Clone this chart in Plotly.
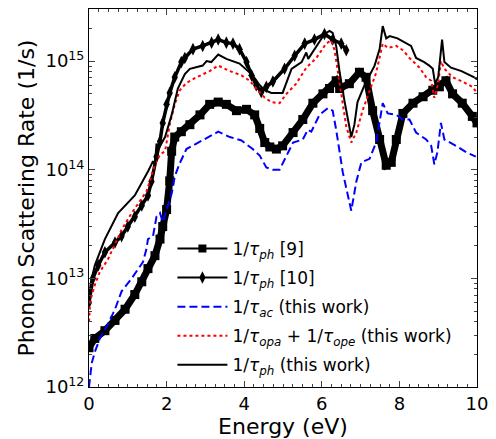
import plotly.graph_objects as go

# ---- data ----
sq_x = [0.0, 0.15, 0.41, 0.67, 0.93, 1.18, 1.36, 1.52, 1.70, 1.83, 1.90, 2.00, 2.08, 2.13, 2.21, 2.38,
        2.60, 2.86, 3.11, 3.33, 3.54, 3.80, 4.06, 4.27, 4.40, 4.53, 4.66, 4.83, 4.99, 5.26, 5.51, 5.77,
        6.03, 6.20, 6.37, 6.46, 6.71, 6.97, 7.14, 7.31, 7.49, 7.66, 7.79, 7.92, 8.09, 8.35, 8.61, 8.86,
        9.03, 9.20, 9.37, 9.62, 9.88, 10.0]
sq_y = [2.3e12, 2.8e12, 3.3e12, 4.1e12, 5.2e12, 7.1e12, 9.3e12, 1.23e13, 1.62e13, 2.3e13, 3.0e13, 4.3e13,
        7.9e13, 1.48e14, 2.0e14, 2.24e14, 2.6e14, 3.2e14, 4.0e14, 4.2e14, 4.0e14, 3.5e14, 3.6e14, 3.2e14,
        2.4e14, 1.78e14, 1.62e14, 1.55e14, 1.66e14, 2.2e14, 2.9e14, 4.1e14, 5.0e14, 5.6e14, 6.6e14, 5.6e14,
        6.2e14, 7.9e14, 7.1e14, 3.5e14, 1.9e14, 1.1e14, 1.17e14, 1.9e14, 3.3e14, 4.1e14, 4.7e14, 5.4e14,
        5.8e14, 6.6e14, 5.0e14, 4.1e14, 3.1e14, 2.7e14]

dm_x = [0.0, 0.10, 0.24, 0.41, 0.67, 0.84, 1.00, 1.18, 1.36, 1.52, 1.61, 1.74, 1.83, 1.90, 2.00, 2.08,
        2.21, 2.38, 2.47, 2.68, 2.93, 3.16, 3.33, 3.54, 3.71, 3.88, 4.06, 4.19, 4.31, 4.44, 4.57, 4.74,
        5.04, 5.30, 5.56, 5.81, 6.07, 6.28, 6.50, 6.63]
dm_y = [6.0e12, 1.0e13, 1.32e13, 1.74e13, 2.14e13, 2.45e13, 3.0e13, 3.7e13, 4.7e13, 5.8e13, 7.8e13,
        1.32e14, 1.82e14, 2.7e14, 4.0e14, 5.1e14, 7.1e14, 9.8e14, 1.07e15, 1.29e15, 1.38e15, 1.48e15,
        1.58e15, 1.48e15, 1.45e15, 1.29e15, 9.8e14, 7.4e14, 6.0e14, 5.2e14, 5.8e14, 6.5e14, 8.5e14,
        1.12e15, 1.45e15, 1.58e15, 1.78e15, 1.58e15, 1.45e15, 1.26e15]

ac_x = [0.0, 0.03, 0.07, 0.15, 0.28, 0.49, 0.67, 0.84, 1.10, 1.39, 1.48, 1.52, 1.65, 1.74, 1.83, 1.90,
        2.03, 2.13, 2.21, 2.34, 2.51, 2.77, 2.98, 3.08, 3.33, 3.63, 3.93, 4.22, 4.40, 4.57, 4.74, 4.91,
        5.09, 5.26, 5.51, 5.64, 5.73, 5.94, 6.16, 6.28, 6.37, 6.54, 6.76, 6.89, 7.02, 7.23, 7.40, 7.57,
        7.70, 7.92, 8.09, 8.26, 8.43, 8.69, 8.82, 8.90, 8.98, 9.07, 9.16, 9.46, 9.72, 9.97]
ac_y = [1.0e12, 1.23e12, 1.66e12, 2.1e12, 2.8e12, 3.8e12, 5.2e12, 7.6e12, 1.0e13, 1.41e13, 1.86e13,
        2.3e13, 2.45e13, 3.7e13, 4.0e13, 3.3e13, 4.7e13, 6.0e13, 8.7e13, 1.15e14, 1.55e14, 1.74e14,
        1.9e14, 2.0e14, 2.24e14, 2.0e14, 1.86e14, 1.55e14, 1.35e14, 1.05e14, 1.0e14, 1.0e14, 1.35e14,
        1.78e14, 1.9e14, 2.34e14, 2.24e14, 3.2e14, 3.7e14, 3.5e14, 2.34e14, 9.5e13, 4.2e13, 7.8e13,
        1.17e14, 1.26e14, 1.78e14, 4.1e14, 3.3e14, 3.2e14, 2.9e14, 2.9e14, 2.2e14, 1.9e14, 1.66e14,
        1.12e14, 1.45e14, 2.7e14, 1.9e14, 1.66e14, 1.45e14, 1.32e14]

op_x = [0.0, 0.03, 0.15, 0.28, 0.49, 0.67, 0.84, 1.10, 1.31, 1.48, 1.57, 1.70, 1.83, 1.96, 2.08, 2.21,
        2.34, 2.51, 2.77, 3.11, 3.33, 3.63, 3.93, 4.14, 4.31, 4.53, 4.70, 4.91, 5.09, 5.34, 5.60, 5.86,
        6.11, 6.24, 6.33, 6.46, 6.63, 6.76, 6.89, 7.05, 7.23, 7.40, 7.57, 7.70, 7.92, 8.09, 8.26, 8.52,
        8.69, 8.82, 8.90, 9.00, 9.07, 9.16, 9.37, 9.62, 9.88, 10.0]
op_y = [4.0e12, 6.2e12, 8.7e12, 1.15e13, 1.5e13, 2.1e13, 2.8e13, 4.0e13, 5.2e13, 6.3e13, 7.9e13,
        1.12e14, 1.38e14, 1.48e14, 2.6e14, 4.0e14, 5.4e14, 6.3e14, 7.1e14, 8.1e14, 9.1e14, 8.1e14,
        7.4e14, 6.6e14, 5.6e14, 4.6e14, 4.2e14, 4.1e14, 5.0e14, 6.2e14, 8.7e14, 1.07e15, 1.45e15,
        1.55e15, 1.26e15, 6.3e14, 2.5e14, 1.78e14, 2.2e14, 3.5e14, 5.4e14, 7.8e14, 1.45e15, 1.32e15,
        1.38e15, 1.26e15, 1.07e15, 8.7e14, 7.1e14, 6.6e14, 4.6e14, 6.2e14, 1.0e15, 8.5e14, 7.1e14,
        6.5e14, 5.8e14, 5.1e14]

ph_x = [0.0, 0.05, 0.15, 0.41, 0.75, 1.18, 1.53, 1.65, 1.70, 1.74, 1.80, 1.96, 2.13, 2.29, 2.47, 2.60,
        2.93, 3.03, 3.15, 3.33, 3.54, 3.88, 4.22, 4.40, 4.53, 4.70, 4.99, 5.09, 5.22, 5.48, 5.60, 5.65,
        5.81, 6.07, 6.20, 6.28, 6.37, 6.46, 6.59, 6.76, 6.84, 6.92, 7.10, 7.36, 7.49, 7.57, 7.66, 7.75,
        7.95, 8.13, 8.30, 8.43, 8.64, 8.77, 8.86, 8.92, 9.00, 9.10, 9.16, 9.33, 9.60, 9.93, 10.0]
ph_y = [6.5e12, 9.3e12, 1.32e13, 2.3e13, 4.0e13, 5.8e13, 9.8e13, 1.2e14, 1.12e14, 1.74e14, 1.58e14,
        2.0e14, 3.2e14, 5.6e14, 7.6e14, 8.5e14, 9.1e14, 1.0e15, 9.8e14, 1.15e15, 1.05e15, 9.5e14, 7.4e14,
        6.0e14, 5.4e14, 5.1e14, 5.1e14, 6.5e14, 8.5e14, 9.8e14, 1.2e15, 1.05e15, 1.29e15, 1.78e15,
        1.9e15, 1.82e15, 1.38e15, 7.9e14, 4.2e14, 2.0e14, 2.6e14, 4.2e14, 6.0e14, 9.1e14, 1.29e15,
        2.1e15, 1.62e15, 1.7e15, 1.62e15, 1.48e15, 1.38e15, 1.07e15, 9.8e14, 9.1e14, 8.5e14, 6.2e14,
        7.1e14, 1.58e15, 9.8e14, 8.7e14, 8.1e14, 7.1e14, 6.8e14]

names = ["1/<i>τ</i><sub><i>ph</i></sub> [9]",
         "1/<i>τ</i><sub><i>ph</i></sub> [10]",
         "1/<i>τ</i><sub><i>ac</i></sub> (this work)",
         "1/<i>τ</i><sub><i>opa</i></sub> + 1/<i>τ</i><sub><i>ope</i></sub> (this work)",
         "1/<i>τ</i><sub><i>ph</i></sub> (this work)"]

fig = go.Figure()
# squares [9]: thick band + markers, plus legend proxy
fig.add_trace(go.Scatter(x=sq_x, y=sq_y, mode="lines+markers", showlegend=False,
                         line=dict(color="black", width=7),
                         marker=dict(symbol="square", size=9, color="black")))
fig.add_trace(go.Scatter(x=[None], y=[None], mode="lines+markers", name=names[0], legendgroup="a",
                         line=dict(color="black", width=2),
                         marker=dict(symbol="square", size=8, color="black")))
# diamonds [10]
fig.add_trace(go.Scatter(x=dm_x, y=dm_y, mode="lines+markers", showlegend=False,
                         line=dict(color="black", width=3.5),
                         marker=dict(symbol="diamond-tall", size=9, color="black")))
fig.add_trace(go.Scatter(x=[None], y=[None], mode="lines+markers", name=names[1], legendgroup="b",
                         line=dict(color="black", width=2),
                         marker=dict(symbol="diamond-tall", size=9, color="black")))
fig.add_trace(go.Scatter(x=ac_x, y=ac_y, mode="lines", name=names[2], legendgroup="c",
                         line=dict(color="#0000ff", width=2, dash="8px,4px")))
fig.add_trace(go.Scatter(x=op_x, y=op_y, mode="lines", name=names[3], legendgroup="d",
                         line=dict(color="#ff0000", width=2, dash="dot")))
fig.add_trace(go.Scatter(x=ph_x, y=ph_y, mode="lines", name=names[4], legendgroup="e",
                         line=dict(color="black", width=2)))

decades = [1e12, 1e13, 1e14, 1e15]
minor_y = [m * d for d in [1e12, 1e13, 1e14, 1e15] for m in range(2, 10) if m * d < 3.1e15]

fig.update_layout(
    width=496, height=439,
    margin=dict(l=89, r=18, t=8, b=47),
    plot_bgcolor="white", paper_bgcolor="white",
    font=dict(family="DejaVu Sans", size=18, color="black"),
    legend=dict(x=0.215, y=0.413, xanchor="left", yanchor="top", itemwidth=50,
                bgcolor="rgba(0,0,0,0)", font=dict(size=17), tracegroupgap=4),
)
fig.update_xaxes(range=[0, 10], tickvals=[0, 2, 4, 6, 8, 10], ticks="inside", ticklen=6,
                 showline=True, linecolor="black", linewidth=1, mirror="ticks", showgrid=False,
                 zeroline=False, title=dict(text="Energy (eV)", standoff=2),
                 minor=dict(dtick=0.25, ticks="inside", ticklen=3, showgrid=False))
fig.update_yaxes(type="log", range=[12, 15.48], tickvals=decades,
                 ticktext=["10<sup>12</sup>", "10<sup>13</sup>", "10<sup>14</sup>", "10<sup>15</sup>"],
                 ticks="inside", ticklen=6, showline=True, linecolor="black", linewidth=1,
                 mirror="ticks", showgrid=False, zeroline=False,
                 title=dict(text="Phonon Scattering Rate (1/s)", standoff=4),
                 minor=dict(tickvals=minor_y, ticks="inside", ticklen=3, showgrid=False))

fig.write_html("out.html")
